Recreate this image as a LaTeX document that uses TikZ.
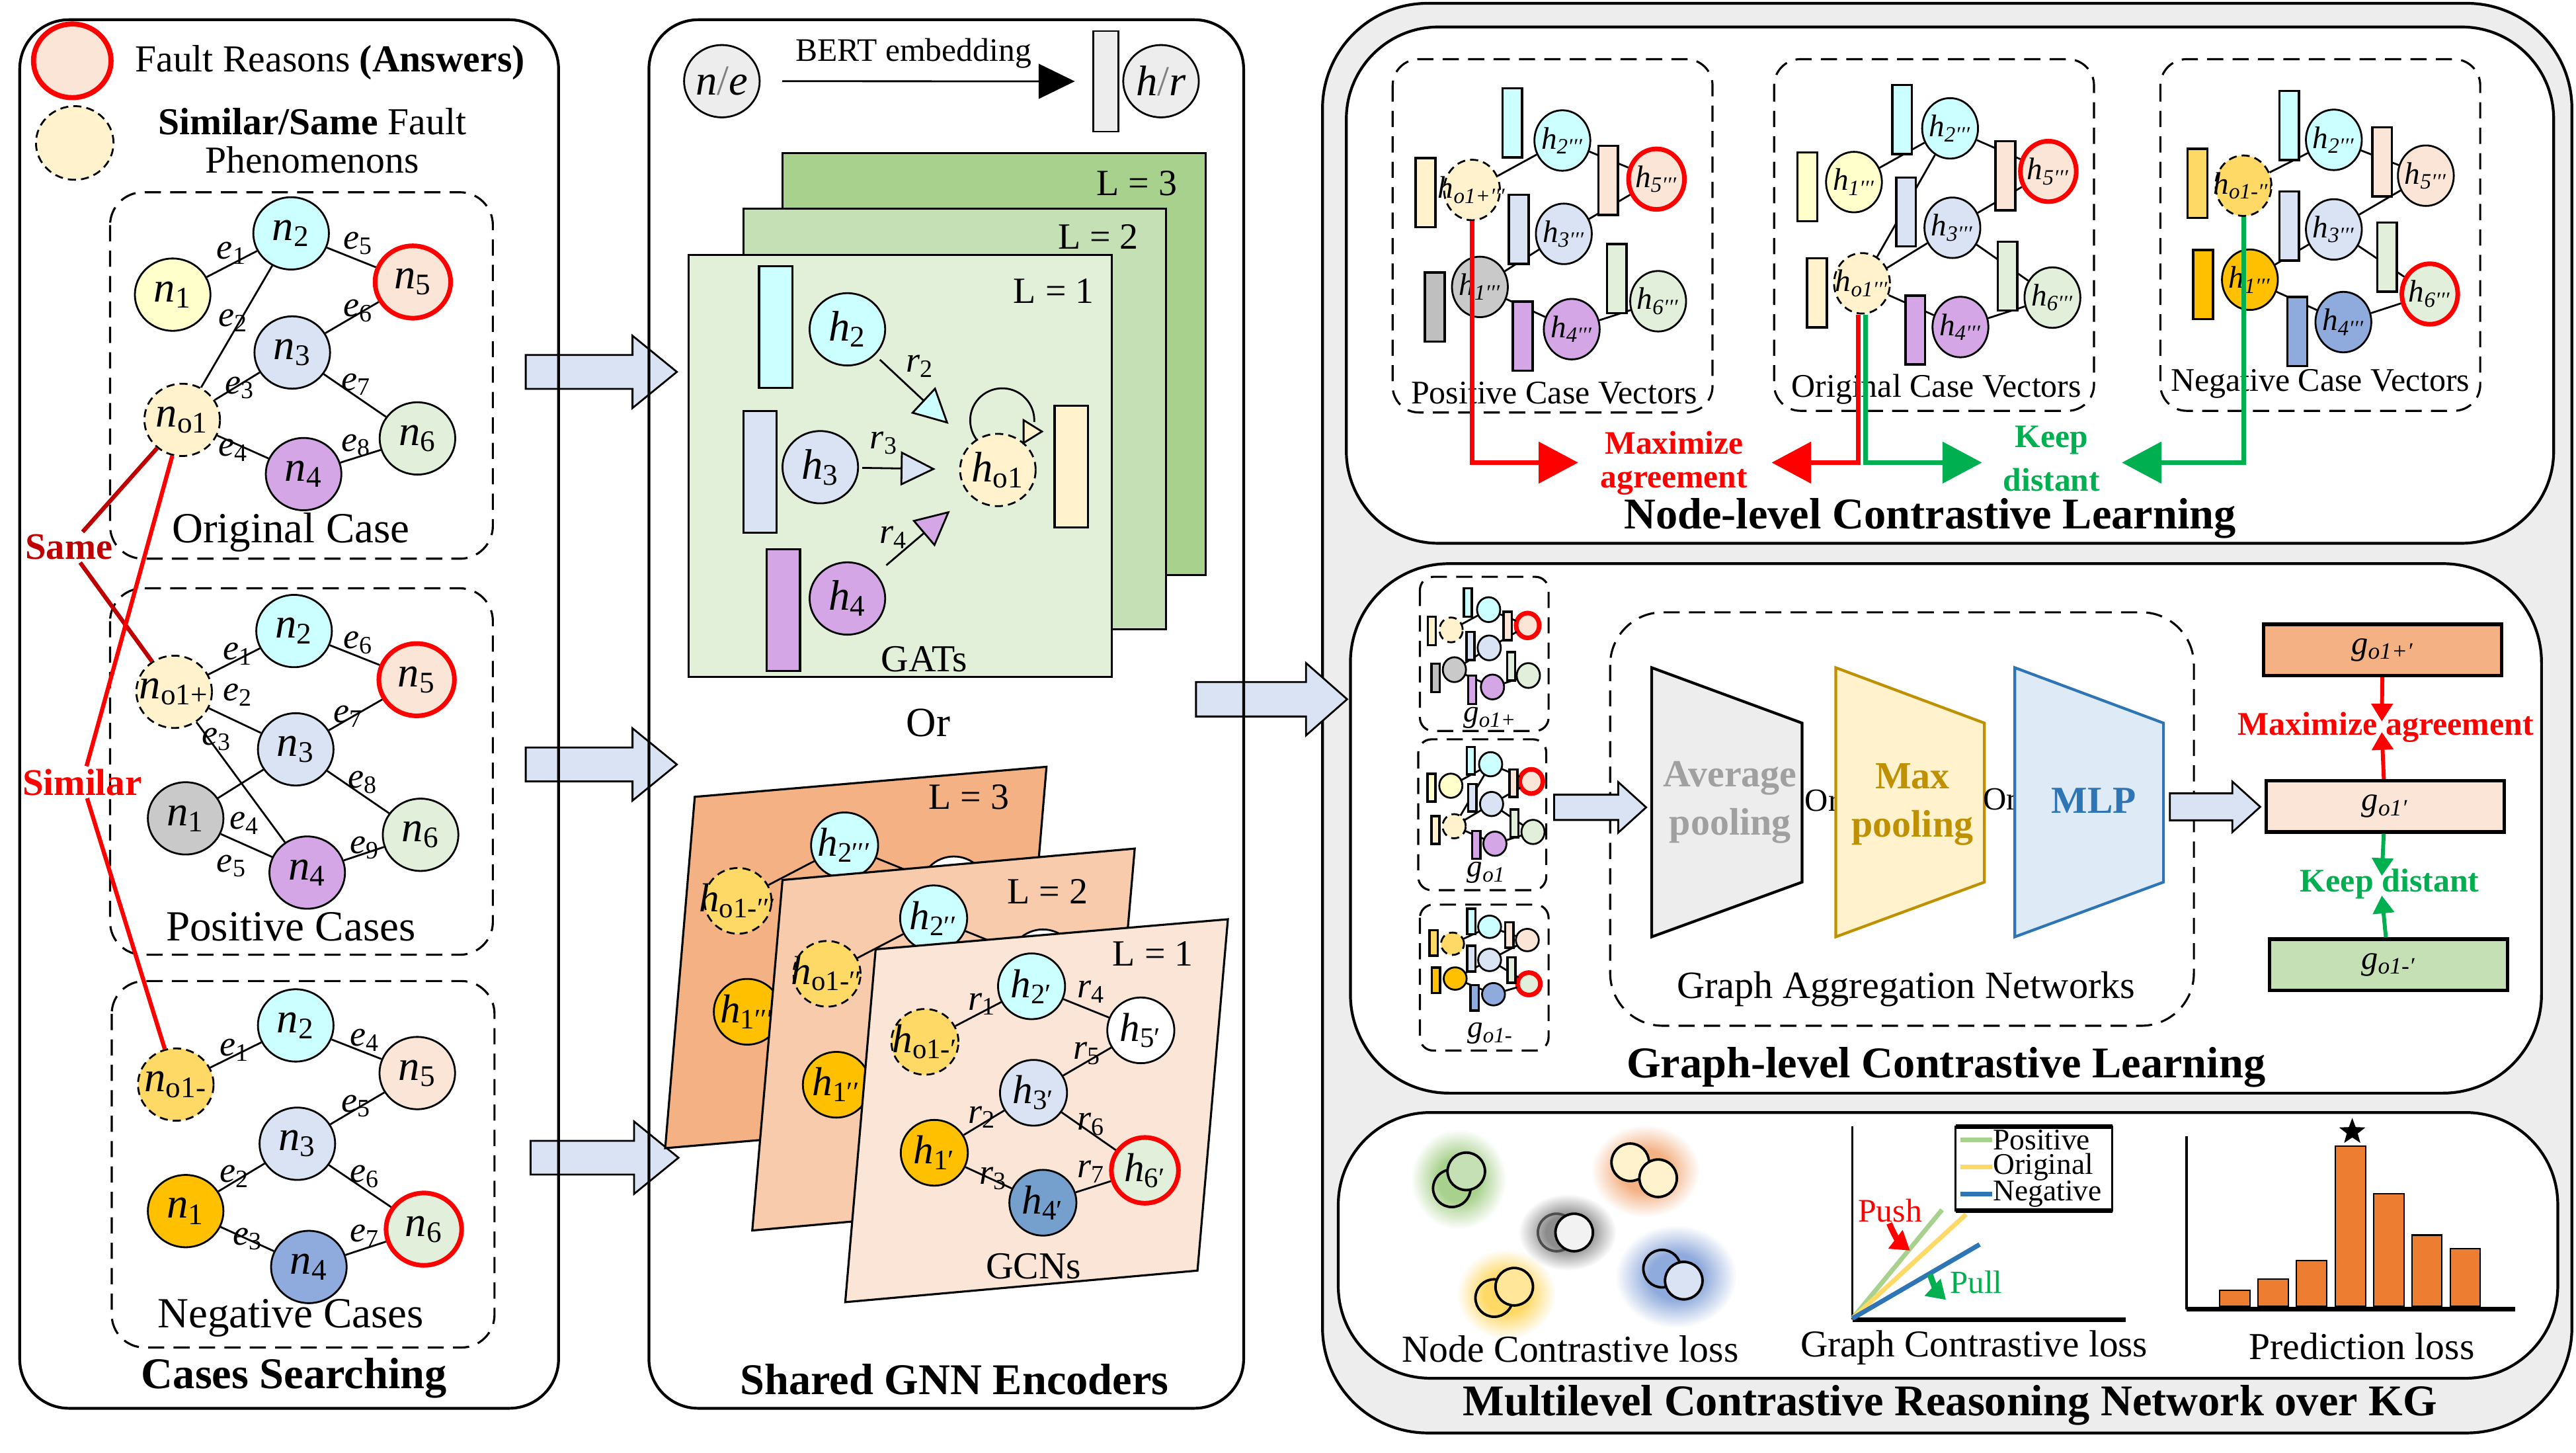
\documentclass[tikz,border=0pt]{standalone}
\usepackage{fontspec}
\setmainfont{Liberation Serif}
\usetikzlibrary{shapes.geometric,arrows.meta,fadings}
\definecolor{cCyan}{HTML}{CCFFFF}
\definecolor{cLY}{HTML}{FFFFCC}
\definecolor{cPeach}{HTML}{FBE5D6}
\definecolor{cLav}{HTML}{DAE3F3}
\definecolor{cCream}{HTML}{FFF2CC}
\definecolor{cPurp}{HTML}{D5A6E6}
\definecolor{cGreen}{HTML}{E2EFDA}
\definecolor{cGrey}{HTML}{C9C9C9}
\definecolor{cGreyR}{HTML}{BFBFBF}
\definecolor{cGold}{HTML}{FFD966}
\definecolor{cOrange}{HTML}{FFC000}
\definecolor{cBlue}{HTML}{8FAADC}
\definecolor{cBlueD}{HTML}{75A0CE}
\definecolor{cLG}{HTML}{EDEDED}
\definecolor{cGat1}{HTML}{E2F0D9}
\definecolor{cGat2}{HTML}{C5E0B4}
\definecolor{cGat3}{HTML}{A9D18E}
\definecolor{cGcn1}{HTML}{FBE5D6}
\definecolor{cGcn2}{HTML}{F8CBAD}
\definecolor{cGcn3}{HTML}{F4B183}
\definecolor{cSame}{HTML}{C00000}
\definecolor{cRed}{HTML}{FF0000}
\definecolor{cGrn}{HTML}{00B050}
\definecolor{cMaxB}{HTML}{BF9000}
\definecolor{cMLPb}{HTML}{2E75B6}
\definecolor{cMLPf}{HTML}{DEEBF7}
\definecolor{cBar}{HTML}{ED7D31}
\definecolor{cAvgT}{HTML}{A0A0A0}
\definecolor{cArrow}{HTML}{DAE3F3}
\definecolor{cYel}{HTML}{FFE699}
\newcommand\fs[1]{\fontsize{#1}{#1}\selectfont}
\newcommand\nn[2]{\makebox[0pt]{\textit{#1}\textsubscript{#2}}}
\newcommand\nti[2]{\makebox[0pt]{\textit{#1}\textsubscript{\textit{#2}}}}
\newcommand\vl[1]{#1}
\newcommand\hid[1]{#1}
\newcommand\barw[6]{\filldraw[fill=cArrow, line width=0.8pt, line join=miter] (#1,#3-#4) -- (#2-#6,#3-#4) -- (#2-#6,#3-#5) -- (#2,#3) -- (#2-#6,#3+#5) -- (#2-#6,#3+#4) -- (#1,#3+#4) -- cycle;}
\pgfdeclareradialshading{glowsh}{\pgfpointorigin}{color(0bp)=(white); color(11bp)=(white); color(25bp)=(black); color(50bp)=(black)}
\pgfdeclarefading{glowfd}{\pgfuseshading{glowsh}}
\tikzset{
 panel/.style={draw, line width=1.2pt, rounded corners=0.75cm},
 dbox/.style={draw, line width=0.9pt, dash pattern=on 7pt off 4pt, rounded corners=0.5cm},
 cn/.style={ellipse, draw, line width=0.8pt, inner sep=0pt, minimum width=1.15cm, minimum height=1.1cm, font=\fs{18.5}},
 gn/.style={ellipse, draw, line width=0.8pt, inner sep=0pt, minimum width=1.02cm, minimum height=1.0cm, font=\fs{17.5}},
 vn/.style={ellipse, draw, line width=0.8pt, inner sep=0pt, minimum width=0.85cm, minimum height=0.92cm, font=\fs{13.5}},
 vr/.style={rectangle, draw, line width=1pt, inner sep=0pt, minimum width=0.3cm, minimum height=1.05cm},
 vrb/.style={rectangle, draw, line width=0.9pt, inner sep=0pt, minimum width=0.51cm, minimum height=1.85cm},
 ans/.style={draw=red, line width=2pt},
 dn/.style={dash pattern=on 3.5pt off 2.2pt},
 ed/.style={line width=0.8pt},
 el/.style={font=\fs{15.5}, inner sep=0pt},
 txt/.style={inner sep=0pt},
 bigred/.style={draw=cRed, line width=2pt, -{Triangle[length=0.6cm,width=0.62cm]}},
 biggrn/.style={draw=cGrn, line width=2pt, -{Triangle[length=0.6cm,width=0.62cm]}},
 medred/.style={draw=cRed, line width=1.7pt, -{Triangle[length=0.27cm,width=0.32cm]}},
 medgrn/.style={draw=cGrn, line width=1.7pt, -{Triangle[length=0.27cm,width=0.32cm]}},
 gbox/.style={rectangle, draw, line width=1.5pt, minimum width=3.62cm, minimum height=0.78cm, font=\fs{14.5}},
 cc/.style={ellipse, draw, line width=1.1pt, inner sep=0pt, minimum width=0.57cm, minimum height=0.57cm},
 bar/.style={fill=cBar, draw=black, line width=0.6pt},
}
\newcommand\gcn[2]{%
 \node[gn, fill=cGold, dn] (#1o) at (563,634) {\nn{h}{o1-#2}};
 \node[gn, fill=cCyan] (#1b) at (627.9,600.2) {\nn{h}{2#2}};
 \node[gn, fill=white] (#1e) at (694.4,627) {\hid{\nn{h}{5#2}}};
 \node[gn, fill=cLav] (#1c) at (629.1,665) {\hid{\nn{h}{3#2}}};
 \node[gn, fill=cOrange] (#1a) at (568.7,701.5) {\nn{h}{1#2}};
 \node[gn, fill=cBlueD] (#1d) at (634.8,731.9) {\hid{\nn{h}{4#2}}};
 \node[gn, fill=cGreen, ans] (#1f) at (696.9,712.2) {\hid{\nn{h}{6#2}}};
 \draw[ed] (#1o)--(#1b) (#1b)--(#1e) (#1e)--(#1c) (#1c)--(#1a) (#1c)--(#1f) (#1a)--(#1d) (#1d)--(#1f);
}
\newcommand\posvec[1]{%
 \node[vn, fill=cCream, dn] (#1ho) at (896,115.6) {\vl{\nti{h}{o1+′′′}}};
 \node[vn, fill=cCyan] (#1h2) at (951,85.5) {\vl{\nti{h}{2′′′}}};
 \node[vn, fill=cPeach, ans] (#1h5) at (1008.3,109) {\vl{\nti{h}{5′′′}}};
 \node[vn, fill=cLav] (#1h3) at (951.9,142.3) {\vl{\nti{h}{3′′′}}};
 \node[vn, fill=cGrey] (#1h1) at (900.8,174.6) {\vl{\nti{h}{1′′′}}};
 \node[vn, fill=cGreen] (#1h6) at (1009.3,183.3) {\vl{\nti{h}{6′′′}}};
 \node[vn, fill=cPurp] (#1h4) at (956.7,200.3) {\vl{\nti{h}{4′′′}}};
 \draw[ed] (#1ho)--(#1h2) (#1h2)--(#1h5) (#1h5)--(#1h3) (#1h3)--(#1h1) (#1h1)--(#1h4) (#1h4)--(#1h6);
 \node[vr, fill=cCyan] (#1r2) at (920.5,74.8) {};
 \node[vr, fill=cPeach] (#1r5) at (978.9,109.7) {};
 \node[vr, fill=cCream] (#1ro) at (867.7,117.2) {};
 \node[vr, fill=cLav] (#1r3) at (924.4,139.5) {};
 \node[vr, fill=cGreyR] (#1r1) at (873.3,186.8) {};
 \node[vr, fill=cGreen] (#1r6) at (984.1,169.6) {};
 \node[vr, fill=cPurp] (#1r4) at (926.9,204.6) {};
}
\newcommand\origvec[1]{%
 \node[vn, fill=cLY] (#1h1) at (1128.5,110.8) {\vl{\nti{h}{1′′′}}};
 \node[vn, fill=cCyan] (#1h2) at (1187,78.1) {\vl{\nti{h}{2′′′}}};
 \node[vn, fill=cPeach, ans] (#1h5) at (1246.8,104.3) {\vl{\nti{h}{5′′′}}};
 \node[vn, fill=cLav] (#1h3) at (1188.4,138.6) {\vl{\nti{h}{3′′′}}};
 \node[vn, fill=cCream, dn] (#1ho) at (1133.4,172.4) {\vl{\nti{h}{o1′′′}}};
 \node[vn, fill=cGreen] (#1h6) at (1249.3,181.1) {\vl{\nti{h}{6′′′}}};
 \node[vn, fill=cPurp] (#1h4) at (1193.3,199) {\vl{\nti{h}{4′′′}}};
 \draw[ed] (#1h1)--(#1h2) (#1ho)--(#1h2) (#1ho)--(#1h3) (#1h2)--(#1h5) (#1h3)--(#1h5) (#1h3)--(#1h6) (#1ho)--(#1h4) (#1h4)--(#1h6);
 \node[vr, fill=cLY] (#1r1) at (1100.1,113.7) {};
 \node[vr, fill=cCyan] (#1r2) at (1157.8,72.8) {};
 \node[vr, fill=cPeach] (#1r5) at (1220.6,106.9) {};
 \node[vr, fill=cLav] (#1r3) at (1160.2,129) {};
 \node[vr, fill=cCream] (#1ro) at (1105.9,178.2) {};
 \node[vr, fill=cGreen] (#1r6) at (1222,168) {};
 \node[vr, fill=cPurp] (#1r4) at (1165.8,200.8) {};
}
\newcommand\negvec[1]{%
 \node[vn, fill=cGold, dn] (#1ho) at (1365.6,113) {\vl{\nti{h}{o1-′′′}}};
 \node[vn, fill=cCyan] (#1h2) at (1420.6,85.1) {\vl{\nti{h}{2′′′}}};
 \node[vn, fill=cPeach] (#1h5) at (1476.6,106.9) {\vl{\nti{h}{5′′′}}};
 \node[vn, fill=cLav] (#1h3) at (1420.6,139.6) {\vl{\nti{h}{3′′′}}};
 \node[vn, fill=cOrange] (#1h1) at (1369.5,170.2) {\vl{\nti{h}{1′′′}}};
 \node[vn, fill=cGreen, ans] (#1h6) at (1479,178.9) {\vl{\nti{h}{6′′′}}};
 \node[vn, fill=cBlue] (#1h4) at (1426.4,196) {\vl{\nti{h}{4′′′}}};
 \draw[ed] (#1ho)--(#1h2) (#1h2)--(#1h5) (#1h3)--(#1h5) (#1h1)--(#1h3) (#1h3)--(#1h6) (#1h1)--(#1h4) (#1h4)--(#1h6);
 \node[vr, fill=cGold] (#1ro) at (1337.6,111.6) {};
 \node[vr, fill=cCyan] (#1r2) at (1393.4,76.4) {};
 \node[vr, fill=cPeach] (#1r5) at (1450,98.5) {};
 \node[vr, fill=cLav] (#1r3) at (1393.4,137.5) {};
 \node[vr, fill=cOrange] (#1r1) at (1341,173.2) {};
 \node[vr, fill=cGreen] (#1r6) at (1453,156.4) {};
 \node[vr, fill=cBlue] (#1r4) at (1398.3,201.8) {};
}
\begin{document}
\begin{tikzpicture}[x=0.025cm,y=-0.025cm]
\useasboundingbox (0,0) rectangle (1568,884);
\fill[white] (0,0) rectangle (1568,884);
% right grey panel
\filldraw[fill=cLG, line width=1.2pt, rounded corners=1.6cm] (805,2) rectangle (1565.5,872);
% block arrows between panels
\barw{320}{412}{226.3}{10.3}{22}{27}
\barw{320}{412}{465.2}{10.3}{22}{27}
\barw{323}{413}{704.5}{10.3}{22}{27}
\barw{728}{820}{425.5}{10.5}{22}{25}
% panels
\draw[panel] (12,12) rectangle (340,857);
\draw[panel] (395,12) rectangle (757,857);

%%%%% LEFT PANEL
\node[cn, minimum width=1.18cm, minimum height=1.12cm, fill=cPeach, draw=red, line width=2.2pt] (lgA) at (44,37) {};
\node[cn, minimum width=1.18cm, minimum height=1.12cm, fill=cCream, dn] (lgB) at (45.5,87) {};
\node[txt, font=\fs{16.5}, anchor=west] (lgAt) at (82,38) {Fault Reasons \textbf{(Answers)}};
\node[txt, font=\fs{16.5}, align=center] (lgBt) at (190,85.5) {\textbf{Similar/Same} Fault\\Phenomenons};
\draw[dbox] (67,117) rectangle (300,340);
\draw[dbox] (67,358) rectangle (300,581);
\draw[dbox] (68,597) rectangle (301,820);
% original case
\node[cn, fill=cLY] (o1) at (105.1,179.3) {\nn{n}{1}};
\node[cn, fill=cCyan] (o2) at (177.2,142) {\nn{n}{2}};
\node[cn, fill=cPeach, ans] (o5) at (251.3,171.6) {\nn{n}{5}};
\node[cn, fill=cLav] (o3) at (177.9,214.5) {\nn{n}{3}};
\node[cn, fill=cCream, dn] (oo) at (110.9,255.5) {\nn{n}{o1}};
\node[cn, fill=cPurp] (o4) at (184.8,288.5) {\nn{n}{4}};
\node[cn, fill=cGreen] (o6) at (254.1,266.8) {\nn{n}{6}};
\draw[ed] (o1)--(o2) (o2)--(oo) (o2)--(o5) (o3)--(o5) (oo)--(o3) (o3)--(o6) (oo)--(o4) (o4)--(o6);
\node[el] (oe1) at (141,154) {\nn{e}{1}};
\node[el] (oe5) at (218,148) {\nn{e}{5}};
\node[el] (oe2) at (142,195) {\nn{e}{2}};
\node[el] (oe6) at (218,189) {\nn{e}{6}};
\node[el] (oe3) at (146,236) {\nn{e}{3}};
\node[el] (oe7) at (217,234) {\nn{e}{7}};
\node[el] (oe4) at (142,274) {\nn{e}{4}};
\node[el] (oe8) at (217,271) {\nn{e}{8}};
\node[txt, font=\fs{18.6}] (ot) at (177,324) {Original Case};
% positive cases
\node[cn, fill=cCream, dn] (pp) at (106,421) {\nn{n}{o1+}};
\node[cn, fill=cCyan] (p2) at (179,384) {\nn{n}{2}};
\node[cn, fill=cPeach, ans] (p5) at (253.6,413.6) {\nn{n}{5}};
\node[cn, fill=cLav] (p3) at (180,456) {\nn{n}{3}};
\node[cn, fill=cGrey] (p1) at (113,498) {\nn{n}{1}};
\node[cn, fill=cPurp] (p4) at (187,531) {\nn{n}{4}};
\node[cn, fill=cGreen] (p6) at (256,508) {\nn{n}{6}};
\draw[ed] (pp)--(p2) (pp)--(p3) (pp)--(p4) (p2)--(p5) (p3)--(p5) (p3)--(p6) (p1)--(p3) (p1)--(p4) (p4)--(p6);
\node[el] (pe1) at (145,398) {\nn{e}{1}};
\node[el] (pe6) at (218,391) {\nn{e}{6}};
\node[el] (pe2) at (145,423) {\nn{e}{2}};
\node[el] (pe3) at (132,450) {\nn{e}{3}};
\node[el] (pe7) at (212,436) {\nn{e}{7}};
\node[el] (pe8) at (221,476) {\nn{e}{8}};
\node[el] (pe4) at (149,501) {\nn{e}{4}};
\node[el] (pe5) at (141,527) {\nn{e}{5}};
\node[el] (pe9) at (222,516) {\nn{e}{9}};
\node[txt, font=\fs{18.6}] (pt) at (177,564) {Positive Cases};
% negative cases
\node[cn, fill=cGold, dn] (nm) at (107,660) {\nn{n}{o1-}};
\node[cn, fill=cCyan] (m2) at (180,624) {\nn{n}{2}};
\node[cn, fill=cPeach] (m5) at (254,653) {\nn{n}{5}};
\node[cn, fill=cLav] (m3) at (181,696) {\nn{n}{3}};
\node[cn, fill=cOrange] (m1) at (113,737) {\nn{n}{1}};
\node[cn, fill=cBlue] (m4) at (188,771) {\nn{n}{4}};
\node[cn, fill=cGreen, ans] (m6) at (258,748) {\nn{n}{6}};
\draw[ed] (nm)--(m2) (m2)--(m5) (m3)--(m5) (m1)--(m3) (m3)--(m6) (m1)--(m4) (m4)--(m6);
\node[el] (me1) at (143,639) {\nn{e}{1}};
\node[el] (me4) at (222,633) {\nn{e}{4}};
\node[el] (me5) at (217,673) {\nn{e}{5}};
\node[el] (me2) at (143,716) {\nn{e}{2}};
\node[el] (me6) at (222,716) {\nn{e}{6}};
\node[el] (me3) at (151,754) {\nn{e}{3}};
\node[el] (me7) at (222,752) {\nn{e}{7}};
\node[txt, font=\fs{18.6}] (mt) at (177,802) {Negative Cases};
\node[txt, font=\fs{19}\bfseries] (cst) at (179,838.5) {Cases Searching};
% same / similar
\node[font=\fs{16.2}\bfseries, text=cSame, inner sep=1pt] (same) at (42,333) {Same};
\node[font=\fs{16.3}\bfseries, text=cRed, inner sep=1pt] (simi) at (50,476) {Similar};
\draw[cSame, line width=1.8pt] (oo) -- (same);
\draw[cSame, line width=1.8pt] (same) -- (pp);
\draw[cRed, line width=1.8pt] (oo) -- (simi);
\draw[cRed, line width=1.8pt] (simi) -- (nm);

%%%%% MIDDLE PANEL
\node[cn, fill=cLG] (ne) at (439.4,49.4) {\makebox[0pt]{\textit{n}{\color{gray}/}\textit{e}}};
\node[draw, line width=0.8pt, fill=cLG, minimum width=0.38cm, minimum height=1.53cm, inner sep=0pt] (vb) at (673.2,49.5) {};
\node[cn, fill=cLG] (hr) at (706.7,49.4) {\makebox[0pt]{\textit{h}{\color{gray}/}\textit{r}}};
\draw[line width=0.8pt, -{Triangle[length=0.55cm,width=0.53cm]}, shorten <=0.33cm, shorten >=0.27cm] (ne) -- (vb);
\node[txt, font=\fs{14.2}] (bert) at (556,32.5) {BERT embedding};
% GAT layers
\filldraw[fill=cGat3, line width=0.9pt] (476.3,93) rectangle (733.8,350);
\node[txt, font=\fs{16}] (L3a) at (692,111.5) {L = 3};
\filldraw[fill=cGat2, line width=0.9pt] (452.4,127) rectangle (709.7,383);
\node[txt, font=\fs{16}] (L2a) at (668.5,144) {L = 2};
\filldraw[fill=cGat1, line width=0.9pt] (419.2,155) rectangle (676.7,412);
\node[txt, font=\fs{16}] (L1a) at (641.4,177) {L = 1};
\node[vrb, fill=cCyan] (gr2) at (472.25,199) {};
\node[vrb, fill=cLav] (gr3) at (462.65,287.3) {};
\node[vrb, fill=cPurp] (gr4) at (476.75,371.25) {};
\node[vrb, fill=cCream] (gro) at (652.15,284) {};
\node[cn, fill=cCyan] (gh2) at (515.8,200.4) {\nn{h}{2}};
\node[cn, fill=cLav] (gh3) at (499.3,284.3) {\nn{h}{3}};
\node[cn, fill=cPurp] (gh4) at (515.8,364.2) {\nn{h}{4}};
\node[cn, fill=cCream, dn] (gho) at (607.4,286) {\nn{h}{o1}};
\draw[ed, shorten <=0.1cm, shorten >=0.45cm, -{Triangle[length=0.53cm,width=0.54cm,fill=cCyan]}] (gh2) -- (gho);
\draw[ed, shorten <=0.05cm, shorten >=0.36cm, -{Triangle[length=0.53cm,width=0.52cm,fill=cLav]}] (gh3) -- (gho);
\draw[ed, shorten <=0.2cm, shorten >=0.38cm, -{Triangle[length=0.53cm,width=0.52cm,fill=cPurp]}] (gh4) -- (gho);
\draw[ed] (gho.125) arc[start angle=216, end angle=-3, radius=0.4875cm] coordinate (loopE);
\coordinate (loopT) at (635.3,262.6);
\draw[ed, -{Triangle[length=0.32cm,width=0.39cm,fill=cCream]}] ([xshift=-0.3pt]loopT) -- (loopT);
\node[el] (gr2l) at (560,223) {\nn{r}{2}};
\node[el] (gr3l) at (538,269.6) {\nn{r}{3}};
\node[el] (gr4l) at (544,327) {\nn{r}{4}};
\node[txt, font=\fs{16.5}] (gats) at (562.6,401) {GATs};
\node[txt, font=\fs{18}] (or1) at (565,440) {Or};
% GCN layers
\filldraw[fill=cGcn3, line width=0.9pt] (422.9,484.9) -- (637,466.6) -- (619,680.4) -- (404.9,698.7) -- cycle;
\begin{scope}[shift={(-113.8,-85.8)}]\renewcommand\hid[1]{}\gcn{ga}{′′′}\end{scope}
\node[txt, font=\fs{16}] (L3b) at (589.7,484.9) {L = 3};
\filldraw[fill=cGcn2, line width=0.9pt] (476.3,535.5) -- (690.7,516.4) -- (672.2,729.6) -- (457.9,748.8) -- cycle;
\begin{scope}[shift={(-59.6,-41.4)}]\renewcommand\hid[1]{}\gcn{gb}{′′}\end{scope}
\node[txt, font=\fs{16}] (L2b) at (637.7,542.6) {L = 2};
\filldraw[fill=cGcn1, line width=0.9pt] (533,577.7) -- (747.4,559.4) -- (728.9,773.2) -- (514.5,792.4) -- cycle;
\gcn{gc}{′}
\node[txt, font=\fs{16}] (L1b) at (701.8,580.5) {L = 1};
\node[el] (cr1) at (597.8,611) {\nn{r}{1}};
\node[el] (cr4) at (664.3,603.6) {\nn{r}{4}};
\node[el] (cr5) at (661.9,641) {\nn{r}{5}};
\node[el] (cr2) at (597.8,679.8) {\nn{r}{2}};
\node[el] (cr6) at (664.3,684) {\nn{r}{6}};
\node[el] (cr3) at (604.5,717) {\nn{r}{3}};
\node[el] (cr7) at (664.3,713) {\nn{r}{7}};
\node[txt, font=\fs{16.5}] (gcns) at (629.1,770.4) {GCNs};
\node[txt, font=\fs{19}\bfseries] (sge) at (581,839.3) {Shared GNN Encoders};

%%%%% RIGHT PANEL: node level
\filldraw[fill=white, line width=1.2pt, rounded corners=1.4cm] (819.5,16.4) rectangle (1554.4,330.6);
\draw[dbox, rounded corners=0.4cm] (847.7,36) rectangle (1042.4,251);
\draw[dbox, rounded corners=0.4cm] (1079.9,36) rectangle (1274.6,250);
\draw[dbox, rounded corners=0.4cm] (1315,36) rectangle (1509.7,250);
\posvec{vp}
\origvec{vo}
\negvec{vn}
\node[txt, font=\fs{14.3}] (vpt) at (946,239) {Positive Case Vectors};
\node[txt, font=\fs{14.3}] (vot) at (1178.7,236.7) {Original Case Vectors};
\node[txt, font=\fs{14.3}] (vnt) at (1412.3,233.5) {Negative Case Vectors};
\coordinate (maxL) at (960.6,281.5);
\coordinate (maxR) at (1078.4,281.5);
\coordinate (kpL) at (1206.4,281.5);
\coordinate (kpR) at (1291.6,281.5);
\draw[bigred] (vpho) |- (maxL);
\draw[bigred] ([xshift=-0.06cm]voho.south) |- (maxR);
\draw[biggrn] ([xshift=0.05cm]voho.south) |- (kpL);
\draw[biggrn] (vnho) |- (kpR);
\node[txt, font=\fs{14.2}\bfseries, text=cRed] (mx1) at (1019,269.5) {Maximize};
\node[txt, font=\fs{14.2}\bfseries, text=cRed] (mx2) at (1019,293.5) {agreement};
\node[txt, font=\fs{14.2}\bfseries, text=cGrn] (kp1) at (1248.8,268) {Keep};
\node[txt, font=\fs{14.2}\bfseries, text=cGrn] (kp2) at (1248.8,292) {distant};
\node[txt, font=\fs{19}\bfseries] (nlt) at (1174.8,315.3) {Node-level Contrastive Learning};

%%%%% graph level
\filldraw[fill=white, line width=1.2pt, rounded corners=1.5cm] (822,343) rectangle (1547,665.2);
\draw[dbox, rounded corners=0.2cm] (864.3,351) rectangle (942.6,444.8);
\draw[dbox, rounded corners=0.2cm] (863.3,449.9) rectangle (941.2,541.7);
\draw[dbox, rounded corners=0.2cm] (864.3,550.5) rectangle (942.6,639.3);
\begin{scope}[shift={(903.2,393.2)}, xscale=0.415, yscale=0.41, shift={(-944,-139.7)}, transform shape]
\renewcommand\vl[1]{}\posvec{mp}
\end{scope}
\begin{scope}[shift={(904.6,488.5)}, xscale=0.414, yscale=0.40, shift={(-1180.4,-136.7)}, transform shape]
\renewcommand\vl[1]{}\origvec{mo}
\end{scope}
\begin{scope}[shift={(904,584)}, xscale=0.41, yscale=0.37, shift={(-1414,-139.2)}, transform shape]
\renewcommand\vl[1]{}\negvec{mn}
\end{scope}
\node[txt, font=\fs{13.5}] (gl1) at (907,437) {\nti{g}{o1+}};
\node[txt, font=\fs{13.5}] (gl2) at (904.7,531) {\nti{g}{o1}};
\node[txt, font=\fs{13.5}] (gl3) at (907.1,629) {\nti{g}{o1-}};
\draw[dbox, rounded corners=0.8cm] (980.1,372.6) rectangle (1335.4,624.2);
\filldraw[fill=cLG, draw=black, line width=1.2pt] (1005.4,406.3) -- (1096.9,440) -- (1096.9,536.8) -- (1005.4,570.1) -- cycle;
\node[txt, font=\fontsize{16.6}{21}\selectfont\bfseries, text=cAvgT, align=center] (avg) at (1053.1,488.4) {Average\\pooling};
\node[txt, font=\fs{14}] (or2) at (1109.1,487.3) {Or};
\filldraw[fill=cCream, draw=cMaxB, line width=1.2pt] (1117.4,406.3) -- (1207.9,440) -- (1207.9,536.8) -- (1117.4,570.1) -- cycle;
\node[txt, font=\fontsize{16.6}{21}\selectfont\bfseries, text=cMaxB, align=center] (maxp) at (1164.1,489.5) {Max\\pooling};
\node[txt, font=\fs{14}] (or3) at (1217.6,486.3) {Or};
\filldraw[fill=cMLPf, draw=cMLPb, line width=1.2pt] (1226.4,406.3) -- (1316.9,440) -- (1316.9,536.8) -- (1226.4,570.1) -- cycle;
\node[txt, font=\fs{16.5}\bfseries, text=cMLPb] (mlp) at (1274.6,487.3) {MLP};
\node[txt, font=\fs{16.7}] (gan) at (1160.2,602) {Graph Aggregation Networks};
\barw{946}{1002}{491.3}{7.7}{15.4}{17}
\barw{1320.8}{1375.8}{491}{8.2}{15.4}{17}
\node[gbox, fill=cGcn3] (gp) at (1450.3,395.5) {\nti{g}{o1+′}};
\node[gbox, fill=cPeach] (g0) at (1451.75,490.7) {\nti{g}{o1′}};
\node[gbox, fill=cGat2] (gm) at (1453.9,587.1) {\nti{g}{o1-′}};
\node[txt, font=\fs{14.3}\bfseries, text=cRed] (magr) at (1452.2,442.7) {Maximize agreement};
\node[txt, font=\fs{14.3}\bfseries, text=cGrn] (kdis) at (1454.6,537.9) {Keep distant};
\coordinate (ga1) at (1449.8,439);
\coordinate (ga2) at (1449.8,445.5);
\coordinate (gk1) at (1449.8,533);
\coordinate (gk2) at (1449.8,545);
\draw[medred] (gp) -- (ga1);
\draw[medred] (g0) -- (ga2);
\draw[medgrn] (g0) -- (gk1);
\draw[medgrn] (gm) -- (gk2);
\node[txt, font=\fs{19}\bfseries] (glt) at (1184.5,649.4) {Graph-level Contrastive Learning};

%%%%% bottom
\filldraw[fill=white, line width=1.2pt, rounded corners=1.4cm] (814.6,677) rectangle (1556.9,838.7);
\fill[cGat3, path fading=glowfd] (887.9,717.6) ellipse [x radius=0.72cm, y radius=0.76cm];
\fill[cGcn3, path fading=glowfd] (1001.6,712.6) ellipse [x radius=0.82cm, y radius=0.7cm];
\fill[black!45, path fading=glowfd] (954.1,749.9) ellipse [x radius=0.74cm, y radius=0.58cm];
\fill[cGold, path fading=glowfd] (916.8,787.5) ellipse [x radius=0.75cm, y radius=0.68cm];
\fill[cBlue, path fading=glowfd] (1020.2,776.8) ellipse [x radius=0.92cm, y radius=0.78cm];
\node[cc] (cg1) at (883.7,723.1) {};
\node[cc, fill=cGat2] (cg2) at (892.5,712.8) {};
\node[cc, fill=cCream] (co1) at (992.3,707.3) {};
\node[cc, fill=cCream] (co2) at (1009.3,717) {};
\node[cc, draw=black!70] (cy1) at (947.5,750) {};
\node[cc, fill=black!5] (cy2) at (958.2,750) {};
\node[cc] (cw1) at (909.5,789.9) {};
\node[cc, fill=cYel] (cw2) at (921.7,783) {};
\node[cc] (cb1) at (1011.7,772) {};
\node[cc, fill=cLav] (cb2) at (1024.9,779.3) {};
\node[txt, font=\fs{16.5}] (ncl) at (955.8,820.8) {Node Contrastive loss};
% graph contrastive plot
\coordinate (gO) at (1127.6,802.3);
\draw[line width=0.9pt] (1127.6,685.3) -- (1127.6,803);
\draw[line width=2pt] (1127.6,803) -- (1294,803);
\draw[line width=2pt, cGat3] (gO) -- (1182.1,736.2);
\draw[line width=2pt, cGold] (gO) -- (1196.7,739);
\draw[line width=2pt, cMLPb] (gO) -- (1205,757.3);
\draw[line width=0.9pt] (1190.4,685.7) rectangle (1285.8,736.6);
\draw[line width=2pt] (1190.4,685.7) -- (1285.8,685.7);
\draw[line width=2pt] (1190.4,736.6) -- (1285.8,736.6);
\draw[line width=2pt, cGat3] (1193.3,693.6) -- (1212.8,693.6);
\draw[line width=2pt, cGold] (1193.3,710.1) -- (1212.8,710.1);
\draw[line width=2pt, cMLPb] (1193.3,726.6) -- (1212.8,726.6);
\node[txt, font=\fs{13}, anchor=west] (lgp) at (1213,693.6) {Positive};
\node[txt, font=\fs{13}, anchor=west] (lgo) at (1213,710.1) {Original};
\node[txt, font=\fs{13}, anchor=west] (lgn) at (1213,726.6) {Negative};
\node[txt, font=\fs{14.2}, text=cRed] (push) at (1150.5,736.9) {Push};
\node[txt, font=\fs{14}, text=cGrn] (pull) at (1203,780.2) {Pull};
\draw[cRed, line width=2.6pt, -{Triangle[length=0.28cm,width=0.34cm]}] (1150,744.5) to[bend right=15] (1162.6,761);
\draw[cGrn, line width=2.6pt, -{Triangle[length=0.28cm,width=0.34cm]}] (1174.8,775.4) to[bend right=15] (1184.5,791);
\node[txt, font=\fs{16.4}] (gcl) at (1201.6,820.1) {Graph Contrastive loss};
% prediction
\draw[line width=1pt] (1331,691.5) -- (1331,796.8);
\draw[line width=2pt] (1331,796.8) -- (1531,796.8);
\filldraw[bar] (1351,785.3) rectangle (1369.4,795);
\filldraw[bar] (1374.3,778.5) rectangle (1392.8,795);
\filldraw[bar] (1397.7,767.2) rectangle (1416.2,795);
\filldraw[bar] (1421.5,697.4) rectangle (1440,795);
\filldraw[bar] (1444.9,726.3) rectangle (1463.4,795);
\filldraw[bar] (1468.3,751.6) rectangle (1486.3,795);
\filldraw[bar] (1491.6,760) rectangle (1509.6,795);
\node[star, star points=5, star point ratio=2.4, fill=black, inner sep=0pt, minimum size=0.42cm] (star) at (1431.8,688.7) {};
\node[txt, font=\fs{16.5}] (prl) at (1437.6,819.5) {Prediction loss};
\node[txt, font=\fs{19}\bfseries] (mct) at (1187,855.2) {Multilevel Contrastive Reasoning Network over KG};
\end{tikzpicture}
\end{document}
